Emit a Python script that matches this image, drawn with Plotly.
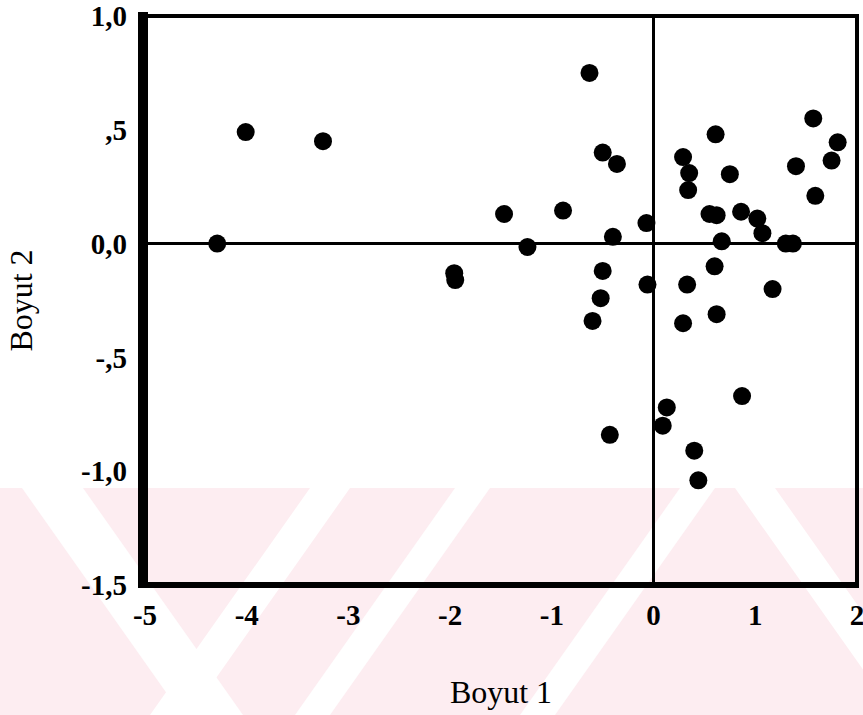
import plotly.graph_objects as go

# Data (Boyut 1, Boyut 2)
boyut1 = [-4.29, -4.01, -3.25, -1.96, -1.95, -1.47, -1.24, -0.89, -0.63, -0.50,
          -0.36, -0.40, -0.07, -0.50, -0.52, -0.60, -0.06, -0.43, 0.13, 0.09,
          0.40, 0.44, 0.29, 0.33, 0.60, 0.62, 0.87, 1.17, 0.61, 0.29,
          0.35, 0.34, 0.75, 1.57, 1.81, 1.75, 1.40, 1.59, 0.55, 0.62,
          0.86, 1.02, 1.07, 0.67, 1.30, 1.37]
boyut2 = [0.00, 0.49, 0.45, -0.13, -0.16, 0.13, -0.015, 0.145, 0.75, 0.40,
          0.35, 0.03, 0.09, -0.12, -0.24, -0.34, -0.18, -0.84, -0.72, -0.80,
          -0.91, -1.04, -0.35, -0.18, -0.10, -0.31, -0.67, -0.20, 0.48, 0.38,
          0.31, 0.235, 0.305, 0.55, 0.445, 0.365, 0.34, 0.21, 0.13, 0.125,
          0.14, 0.11, 0.046, 0.01, 0.00, 0.00]

x_tickvals = [-5, -4, -3, -2, -1, 0, 1, 2]
x_ticktext = ["-5", "-4", "-3", "-2", "-1", "0", "1", "2"]
y_tickvals = [-1.5, -1.0, -0.5, 0.0, 0.5, 1.0]
y_ticktext = ["-1,5", "-1,0", "-,5", "0,0", ",5", "1,0"]

W, H = 863, 715
L, R, T, B = 145, 6, 16, 130
pw, ph = W - L - R, H - T - B

def px(x):
    return (x - L) / pw

def py(y):
    return (H - B - y) / ph

fig = go.Figure()
fig.add_trace(go.Scatter(
    x=boyut1, y=boyut2, mode="markers",
    marker=dict(size=18, color="black"),
    hoverinfo="x+y", showlegend=False,
))

shapes = []
# faint watermark band (decoration)
pink = "rgb(253,237,241)"
shapes.append(dict(type="rect", xref="paper", yref="paper", layer="below",
                   x0=px(0), x1=px(W), y0=py(H), y1=py(488),
                   fillcolor=pink, line=dict(width=0)))
white_stripes = [
    ((22, 83), (182, 243)),
    ((310, 350), (150, 190)),
    ((455, 490), (295, 330)),
    ((680, 715), (520, 555)),
    ((735, 775), (895, 935)),
]
for (t0, t1), (b0, b1) in white_stripes:
    path = "M {} {} L {} {} L {} {} L {} {} Z".format(
        px(t0), py(488), px(t1), py(488), px(b1), py(H), px(b0), py(H))
    shapes.append(dict(type="path", xref="paper", yref="paper", layer="below",
                       path=path, fillcolor="white", line=dict(width=0)))

# frame
shapes.append(dict(type="rect", xref="paper", yref="paper", x0=0, x1=1, y0=0, y1=1,
                   line=dict(color="black", width=4)))
shapes.append(dict(type="line", xref="paper", yref="paper", x0=px(143), x1=px(143),
                   y0=py(588), y1=py(12), line=dict(color="black", width=10)))
shapes.append(dict(type="line", xref="paper", yref="paper", x0=px(138), x1=px(859),
                   y0=py(585), y1=py(585), line=dict(color="black", width=6)))

tick_font = dict(family="Liberation Serif", size=29, weight="bold", color="black")
title_font = dict(family="Liberation Serif", size=32, color="black")

fig.update_layout(
    width=W, height=H,
    margin=dict(l=L, r=R, t=T, b=B),
    paper_bgcolor="white",
    plot_bgcolor="rgba(0,0,0,0)",
    font=dict(family="Liberation Serif", color="black"),
    shapes=shapes,
    xaxis=dict(
        range=[-5, 2], tickmode="array", tickvals=x_tickvals, ticktext=x_ticktext,
        showgrid=False, zeroline=True, zerolinecolor="black", zerolinewidth=3,
        showline=False, ticks="", ticklabelstandoff=10, ticklabeloverflow="allow",
        automargin="height",
        tickfont=tick_font,
        title=dict(text="Boyut 1", font=title_font, standoff=50),
    ),
    yaxis=dict(
        range=[-1.5, 1.0], tickmode="array", tickvals=y_tickvals, ticktext=y_ticktext,
        showgrid=False, zeroline=True, zerolinecolor="black", zerolinewidth=3,
        showline=False, ticks="", ticklabelstandoff=17, ticklabeloverflow="allow",
        automargin="width",
        tickfont=tick_font,
        title=dict(text="Boyut 2", font=title_font, standoff=38),
    ),
)

fig.write_html("out.html", config={"displayModeBar": False},
               post_script="document.body.style.margin='0';")
